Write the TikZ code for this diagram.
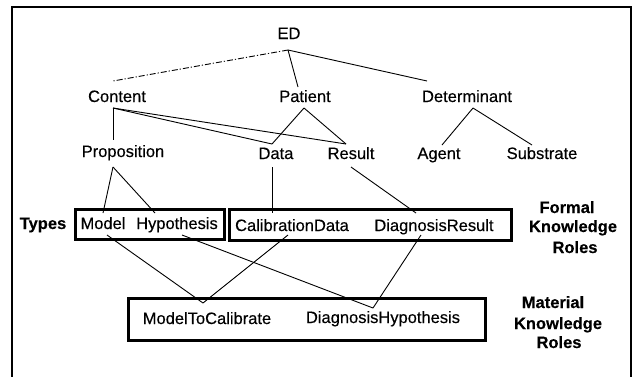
\documentclass[tikz,border=0pt]{standalone}
\usepackage{fontspec}
\setmainfont{Liberation Sans}[FakeBold=0.3]
\begin{document}
\begin{tikzpicture}[x=1pt,y=-1pt,
  lbl/.style={anchor=base,inner sep=0pt,font=\fontsize{16.5}{18}\selectfont},
  blbl/.style={anchor=base,inner sep=0pt,font=\fontsize{16.5}{18}\selectfont\bfseries},
  conn/.style={line width=0.9pt},
  dashdot/.style={line width=0.9pt,dash pattern=on 6pt off 2pt on 1.2pt off 2pt},
  rolebox/.style={draw,line width=3pt},
  frame/.style={line width=1.4pt}]
\useasboundingbox (0,0) rectangle (634,376);
% outer frame (open at the bottom edge of the picture)
\draw[frame] (12,380) -- (12,7) -- (631,7) -- (631,380);

% role boxes
\draw[rolebox] (75,209) rectangle (224,239);
\draw[rolebox] (229,209) rectangle (511,240);
\draw[rolebox] (128,298) rectangle (485,340);

% text nodes
\node[lbl] (ED) at (289,39) {ED};
\node[lbl] (Content) at (117,102) {Content};
\node[lbl] (Patient) at (305,102) {Patient};
\node[lbl] (Determinant) at (467,102) {Determinant};
\node[lbl] (Proposition) at (123,157) {Proposition};
\node[lbl] (Data) at (276,159) {Data};
\node[lbl] (Result) at (351,159) {Result};
\node[lbl] (Agent) at (439,159) {Agent};
\node[lbl] (Substrate) at (542,159) {Substrate};
\node[blbl] (Types) at (43,229) {Types};
\node[lbl] (Model) at (103,229) {Model};
\node[lbl] (Hypothesis) at (177,229) {Hypothesis};
\node[lbl] (CalibrationData) at (292,231) {CalibrationData};
\node[lbl] (DiagnosisResult) at (434,231) {DiagnosisResult};
\node[lbl] (ModelToCalibrate) at (207,324) {ModelToCalibrate};
\node[lbl] (DiagnosisHypothesis) at (383,323) {DiagnosisHypothesis};
\node[blbl] (formalA) at (567,213) {Formal};
\node[blbl] (formalB) at (573,232) {Knowledge};
\node[blbl] (formalC) at (575,253) {Roles};
\node[blbl] (materialA) at (553,308) {Material};
\node[blbl] (materialB) at (558,329) {Knowledge};
\node[blbl] (materialC) at (559,348) {Roles};

% connector end points
\coordinate (ED-s) at (288,50);
\coordinate (Content-n) at (113,81);
\coordinate (Patient-n) at (298,87);
\coordinate (Determinant-n) at (427,81);
\coordinate (Content-s) at (113,108);
\coordinate (Patient-s) at (304,108);
\coordinate (Determinant-s) at (473,108);
\coordinate (Proposition-n) at (113,140);
\coordinate (Data-n) at (272,144);
\coordinate (Result-n) at (346,144);
\coordinate (Agent-n) at (442,145);
\coordinate (Substrate-n) at (532,145);
\coordinate (Proposition-s) at (113,167);
\coordinate (Data-s) at (272,167);
\coordinate (Result-s) at (351,167);
\coordinate (Model-n) at (103,213);
\coordinate (Hypothesis-n) at (155,213);
\coordinate (CalibrationData-n) at (272,213);
\coordinate (DiagnosisResult-n) at (416,213);
\coordinate (Model-s) at (107,235);
\coordinate (Hypothesis-s) at (182,235);
\coordinate (CalibrationData-s) at (288,235);
\coordinate (DiagnosisResult-s) at (421,235);
\coordinate (ModelToCalibrate-n) at (203,303);
\coordinate (DiagnosisHypothesis-n) at (373,308);

% connectors
\draw[dashdot] (ED-s) -- (Content-n);
\draw[conn] (ED-s) -- (Patient-n);
\draw[conn] (ED-s) -- (Determinant-n);
\draw[conn] (Content-s) -- (Proposition-n);
\draw[conn] (Content-s) -- (Data-n);
\draw[conn] (Content-s) -- (Result-n);
\draw[conn] (Patient-s) -- (Data-n);
\draw[conn] (Patient-s) -- (Result-n);
\draw[conn] (Determinant-s) -- (Agent-n);
\draw[conn] (Determinant-s) -- (Substrate-n);
\draw[conn] (Proposition-s) -- (Model-n);
\draw[conn] (Proposition-s) -- (Hypothesis-n);
\draw[conn] (Data-s) -- (CalibrationData-n);
\draw[conn] (Result-s) -- (DiagnosisResult-n);
\draw[conn] (Model-s) -- (ModelToCalibrate-n);
\draw[conn] (CalibrationData-s) -- (ModelToCalibrate-n);
\draw[conn] (Hypothesis-s) -- (DiagnosisHypothesis-n);
\draw[conn] (DiagnosisResult-s) -- (DiagnosisHypothesis-n);
\end{tikzpicture}
\end{document}
